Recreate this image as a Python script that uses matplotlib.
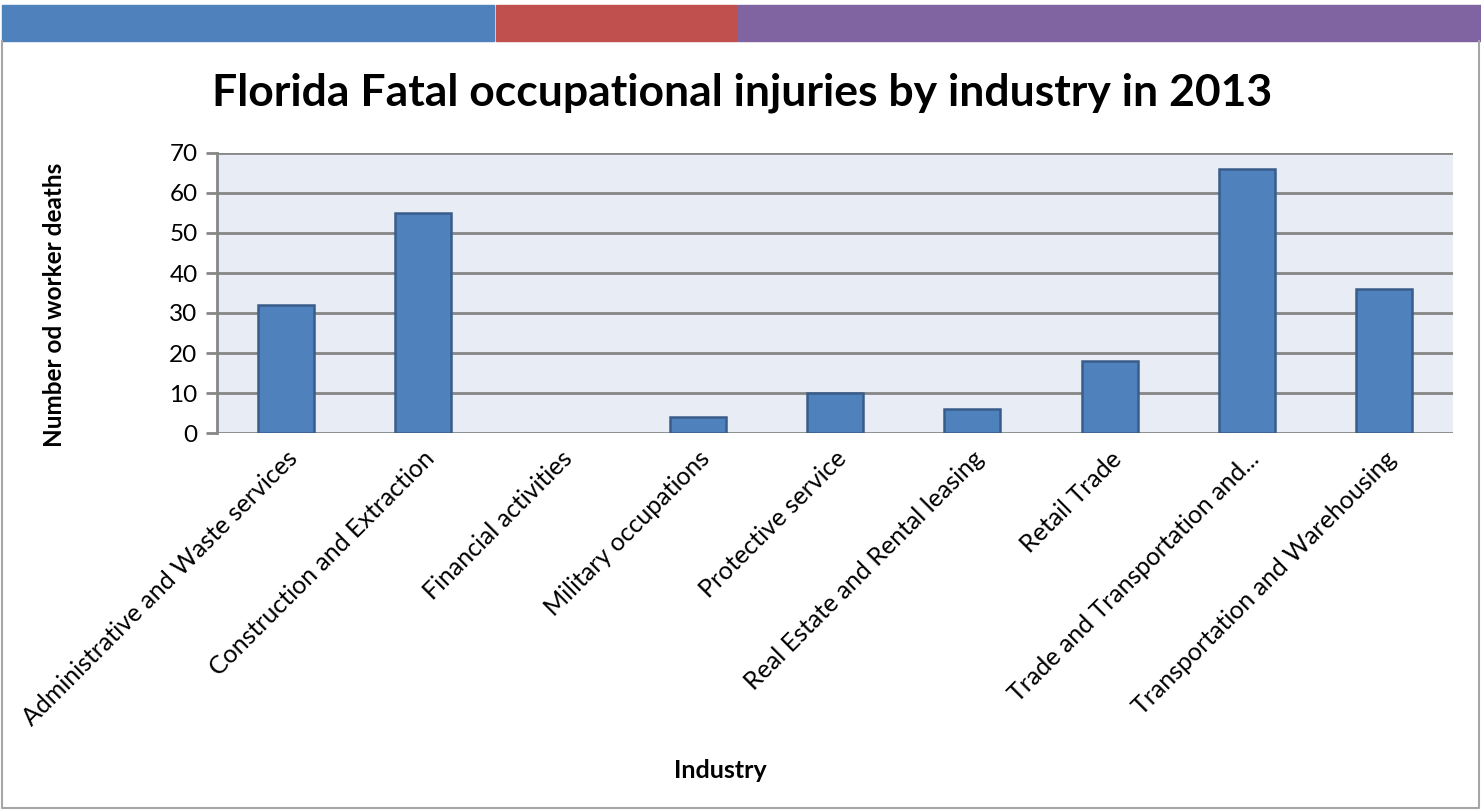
import numpy as np
import matplotlib.pyplot as plt
from matplotlib.patches import Rectangle

industries = ['Administrative and Waste services', 'Construction and Extraction',
              'Financial activities', 'Military occupations', 'Protective service',
              'Real Estate and Rental leasing', 'Retail Trade',
              'Trade and Transportation and...', 'Transportation and Warehousing']
deaths = [32, 55, 0, 4, 10, 6, 18, 66, 36]
yticks = [0, 10, 20, 30, 40, 50, 60, 70]

plt.rcParams['font.family'] = ['Lato', 'DejaVu Sans']

fig = plt.figure(figsize=(14.81, 8.11), dpi=100)

# header bands and frame (pixel coords)
W, H = 1481, 811
for x0, w, c in [(2, 492, '#4f81bd'), (496, 241, '#c0504d'), (738, 743, '#8064a2')]:
    fig.patches.append(Rectangle((x0 / W, 1 - 41 / H), w / W, 36 / H,
                                 transform=fig.transFigure, color=c, zorder=0))
fig.lines.append(plt.Line2D([2 / W, 2 / W, 1479 / W, 1479 / W], [1 - 41 / H, 1 - 808 / H, 1 - 808 / H, 1 - 41 / H],
                            transform=fig.transFigure, color='#a6a6a6', lw=1.5))

ax = fig.add_axes([217 / W, 1 - 433 / H, (1453 - 217) / W, (433 - 153) / H])
ax.set_facecolor('#e8ecf5')
x = np.arange(len(industries))
bars = ax.bar(x, deaths, width=0.41, color='#4f81bd', edgecolor='#385d8a', linewidth=1.8, zorder=3)
# zero bars show nothing in the original
for b, v in zip(bars, deaths):
    if v == 0:
        b.set_visible(False)

ax.set_xlim(-0.5, len(industries) - 0.5)
ax.set_ylim(0, 70)
ax.set_yticks(yticks)
ax.yaxis.grid(True, color='#868686', linewidth=2, zorder=1)
ax.set_axisbelow(True)
for s in ['top', 'right', 'bottom']:
    ax.spines[s].set_visible(False)
ax.spines['left'].set_color('#868686')
ax.spines['left'].set_linewidth(2)
ax.tick_params(axis='y', length=8, width=2, color='#868686', labelsize=17.5, pad=6)
ax.tick_params(axis='x', length=0, labelsize=18, pad=10)
ax.set_xticks(x)
ax.set_xticklabels(industries, rotation=45, ha='right', rotation_mode='anchor')

fig.text(55 / W, 1 - 305 / H, 'Number od worker deaths', fontsize=17.5, fontweight='bold',
         rotation=90, ha='center', va='center')
fig.text(720 / W, 1 - 771 / H, 'Industry', fontsize=18, fontweight='bold', ha='center', va='center')
fig.text(742 / W, 1 - 93 / H, 'Florida Fatal occupational injuries by industry in 2013',
         fontsize=32, fontweight='bold', ha='center', va='center')

fig.savefig('out.png', dpi=100)
